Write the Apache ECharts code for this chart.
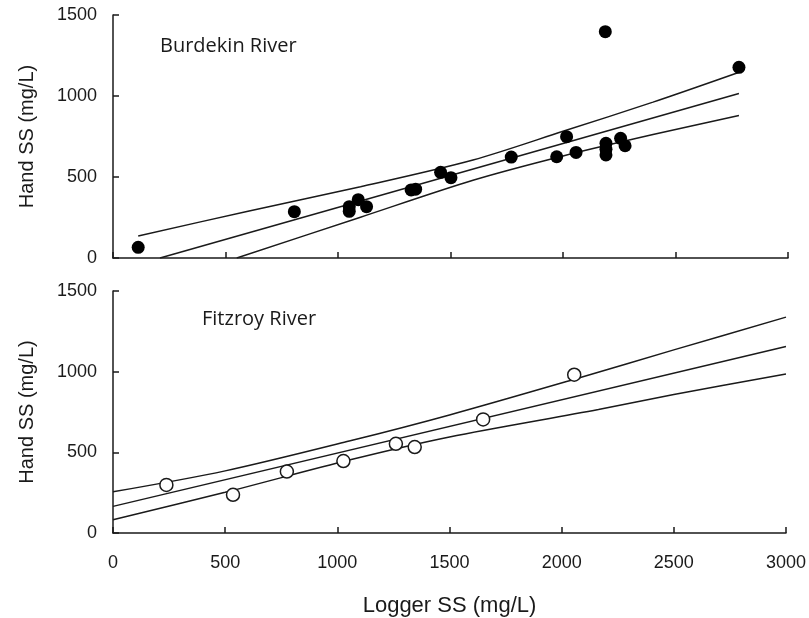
<!DOCTYPE html>
<html>
<head>
<meta charset="utf-8">
<script src="https://cdn.jsdelivr.net/npm/echarts@6/dist/echarts.min.js"></script>
<style>
  html, body { margin: 0; padding: 0; background: #fff; }
  #chart { width: 809px; height: 618px; }
</style>
</head>
<body>
<div id="chart"></div>
<script>
// Burdekin River: logger vs hand-sampled suspended solids (mg/L)
const burdekinLogger = [112, 806, 1050, 1050, 1090, 1127, 1325, 1345, 1456, 1502, 1770, 1972, 2016, 2058, 2188, 2191, 2191, 2191, 2256, 2276, 2782];
const burdekinHand   = [66, 286, 317, 288, 360, 317, 420, 425, 529, 496, 623, 625, 749, 652, 1397, 708, 671, 636, 739, 693, 1177];

// Burdekin regression line and confidence limits
const burdekinFitX   = [209, 2782];
const burdekinFitY   = [0, 1016];
const burdekinUpperX = [112, 600, 1100, 1600, 2000, 2400, 2780];
const burdekinUpperY = [136, 289, 440, 605, 782, 962, 1145];
const burdekinLowerX = [550, 1100, 1600, 2000, 2400, 2782];
const burdekinLowerY = [0, 252, 480, 630, 762, 880];

// Fitzroy River: logger vs hand-sampled suspended solids (mg/L)
const fitzroyLogger = [238, 535, 775, 1027, 1261, 1345, 1650, 2056];
const fitzroyHand   = [298, 237, 381, 446, 553, 533, 704, 981];

// Fitzroy regression line and confidence limits
const fitzroyFitX   = [0, 3000];
const fitzroyFitY   = [165, 1156];
const fitzroyUpperX = [0, 500, 1053, 1500, 2076, 2500, 3000];
const fitzroyUpperY = [255, 385, 570, 732, 961, 1135, 1338];
const fitzroyLowerX = [0, 500, 1053, 1500, 2164, 2500, 3000];
const fitzroyLowerY = [82, 252, 452, 595, 765, 858, 986];

// Axis ticks
const xTicks = [0, 500, 1000, 1500, 2000, 2500, 3000];
const yTicks = [0, 500, 1000, 1500];

const zip = (xs, ys) => xs.map((x, i) => [x, ys[i]]);

const ink = '#1a1a1a';
const tickFont = '"Liberation Sans", Arial, sans-serif';
const plain = v => String(v);

function xAxis(gridIndex, showLabels) {
  return {
    type: 'value', gridIndex,
    min: xTicks[0], max: xTicks[xTicks.length - 1], interval: 500,
    axisLine: { show: true, onZero: false, lineStyle: { color: ink, width: 1.5 } },
    axisTick: { show: true, inside: true, length: 6, lineStyle: { color: ink, width: 1.5 } },
    axisLabel: {
      show: showLabels, margin: 21, color: ink, fontSize: 18, fontFamily: tickFont,
      showMinLabel: true, showMaxLabel: true, formatter: plain
    },
    splitLine: { show: false },
    name: showLabels ? 'Logger SS (mg/L)' : '',
    nameLocation: 'middle', nameGap: 62,
    nameTextStyle: { color: ink, fontSize: 22, fontFamily: tickFont }
  };
}

function yAxis(gridIndex) {
  return {
    type: 'value', gridIndex,
    min: yTicks[0], max: yTicks[yTicks.length - 1], interval: 500,
    axisLine: { show: true, onZero: false, lineStyle: { color: ink, width: 1.5 } },
    axisTick: { show: true, inside: true, length: 6, lineStyle: { color: ink, width: 1.5 } },
    axisLabel: { margin: 16, color: ink, fontSize: 18, fontFamily: tickFont, formatter: plain },
    splitLine: { show: false },
    name: 'Hand SS (mg/L)',
    nameLocation: 'middle', nameGap: 76,
    nameTextStyle: { color: ink, fontSize: 20, fontFamily: tickFont }
  };
}

function fitLine(xi, data, smooth) {
  return {
    type: 'line', xAxisIndex: xi, yAxisIndex: xi, data,
    showSymbol: false, smooth: smooth || false, silent: true, z: 2,
    lineStyle: { color: ink, width: 1.5 }
  };
}

const option = {
  animation: false,
  backgroundColor: '#ffffff',
  grid: [
    { left: 113, right: 21, top: 15, height: 243 },
    { left: 113, right: 21, top: 291, height: 243 }
  ],
  xAxis: [xAxis(0, false), xAxis(1, true)],
  yAxis: [yAxis(0), yAxis(1)],
  graphic: [
    { type: 'text', left: 160, top: 36,
      style: { text: 'Burdekin River', fontSize: 20, fontFamily: '"Open Sans", sans-serif', fill: ink } },
    { type: 'text', left: 202, top: 309,
      style: { text: 'Fitzroy River', fontSize: 20, fontFamily: '"Open Sans", sans-serif', fill: ink } }
  ],
  series: [
    fitLine(0, zip(burdekinFitX, burdekinFitY)),
    fitLine(0, zip(burdekinUpperX, burdekinUpperY), 0.3),
    fitLine(0, zip(burdekinLowerX, burdekinLowerY), 0.3),
    {
      type: 'scatter', xAxisIndex: 0, yAxisIndex: 0, z: 3,
      data: zip(burdekinLogger, burdekinHand),
      symbol: 'circle', symbolSize: 13,
      itemStyle: { color: '#000', opacity: 1 }
    },
    fitLine(1, zip(fitzroyFitX, fitzroyFitY)),
    fitLine(1, zip(fitzroyUpperX, fitzroyUpperY), 0.3),
    fitLine(1, zip(fitzroyLowerX, fitzroyLowerY), 0.3),
    {
      type: 'scatter', xAxisIndex: 1, yAxisIndex: 1, z: 3,
      data: zip(fitzroyLogger, fitzroyHand),
      symbol: 'circle', symbolSize: 13,
      itemStyle: { color: '#fff', borderColor: ink, borderWidth: 1.5, opacity: 1 }
    }
  ]
};

const chart = echarts.init(document.getElementById('chart'), null, { renderer: 'canvas' });
chart.setOption(option);
</script>
</body>
</html>
